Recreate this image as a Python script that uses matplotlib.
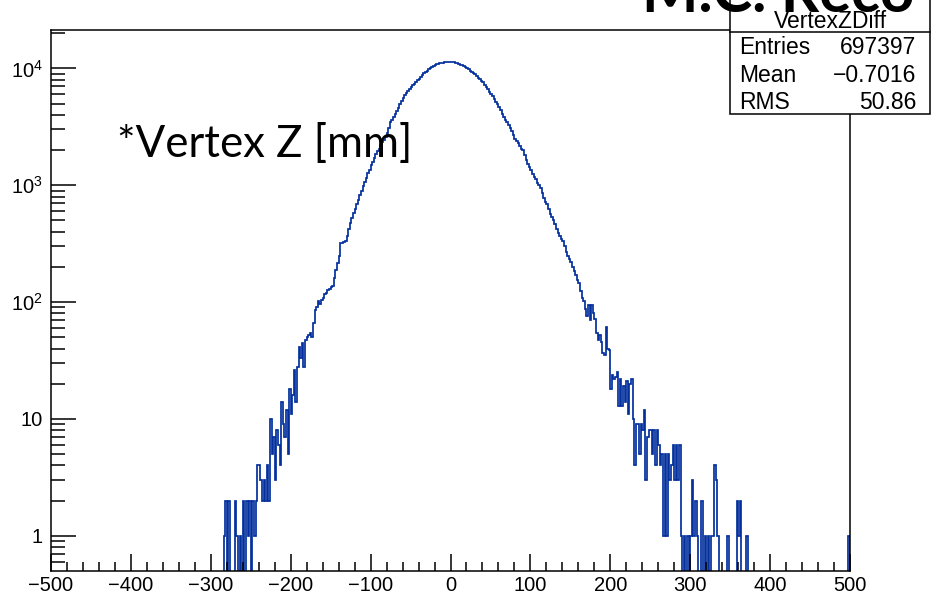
import numpy as np
import matplotlib
matplotlib.use("Agg")
import matplotlib.pyplot as plt
from matplotlib.ticker import FixedLocator, MultipleLocator, LogLocator, NullFormatter

plt.rcParams['font.family'] = ['Liberation Sans', 'DejaVu Sans']
plt.rcParams['mathtext.fontset'] = 'custom'
plt.rcParams['mathtext.rm'] = 'Liberation Sans'
plt.rcParams['mathtext.it'] = 'Liberation Sans:italic'

# histogram binning: 500 bins of 2 mm from -500 to 500
x_min, x_max, n_bins = -500, 500, 500

# counts per bin, starting at the bin with left edge -284 mm
first_edge = -284
counts = [
    # -284 .. -190
    1, 2, 0, 2, 0, 0, 0, 2, 1, 0,
    1, 0, 2, 0, 2, 1, 2, 0, 2, 1,
    2, 4, 4, 3, 2, 3, 2, 4, 2, 10,
    5, 7, 3, 8, 6, 4, 14, 9, 7, 12,
    5, 18, 11, 16, 26, 14, 28,
    # -190 .. -100
    41, 33, 45, 28, 47, 50, 52, 54, 50, 66,
    85, 90, 103, 96, 105, 108, 118, 120, 126, 130,
    134, 138, 160, 190, 215, 250, 318, 322, 325, 335,
    365, 420, 473, 520, 575, 620, 690, 745, 820, 900,
    977, 1060, 1150, 1260, 1360,
    # -100 .. 0
    1480, 1580, 1700, 1850, 1950, 2050, 2200, 2350, 2450, 2600,
    2820, 3100, 3500, 3650, 3850, 4070, 4350, 4600, 4950, 5300,
    5620, 5900, 6200, 6450, 6700, 6920, 7150, 7400, 7650, 7900,
    8130, 8400, 8750, 9100, 9350, 9550, 9800, 10050, 10300, 10550,
    10700, 10850, 10950, 11100, 11150, 11220, 11300, 11350, 11380, 11400,
    # 0 .. 100
    11400, 11380, 11300, 11200, 11100, 10960, 10750, 10600, 10400, 10200,
    10000, 9800, 9550, 9300, 9100, 8900, 8650, 8350, 8100, 7850,
    7580, 7250, 6900, 6600, 6300, 6020, 5750, 5450, 5200, 4950,
    4680, 4400, 4100, 3800, 3600, 3470, 3250, 3100, 2900, 2700,
    2500, 2400, 2300, 2150, 2050, 1990, 1800, 1650, 1530, 1420,
    # 100 .. 172
    1350, 1250, 1180, 1120, 1050, 1000, 940, 860, 780, 720,
    690, 620, 570, 530, 500, 465, 420, 390, 370, 345,
    330, 300, 270, 250, 235, 220, 200, 185, 170, 155,
    145, 125, 108, 102, 88, 76,
    # 172 .. 372
    95, 70, 95, 80, 72, 54, 47, 52, 46, 37,
    35, 61, 40, 39, 18, 24, 22, 23, 25, 13,
    22, 13, 19, 14, 21, 11, 20, 22, 10, 4,
    9, 9, 5, 9, 8, 12, 3, 7, 8, 8,
    5, 8, 4, 8, 6, 4, 5, 1, 5, 1,
    5, 3, 4, 6, 3, 6, 3, 6, 1, 0,
    1, 0, 1, 0, 1, 3, 1, 2, 1, 0,
    0, 2, 0, 1, 0, 1, 0, 1, 1, 4,
    3, 1, 0, 0, 0, 0, 0, 1, 0, 0,
    0, 0, 0, 2, 1, 2, 0, 0, 0, 1,
]
last_bin_count = 1  # bin 498..500

stats_title = "VertexZDiff"
stats_rows = [("Entries", "697397"), ("Mean", "\u22120.7016"), ("RMS", "50.86")]

edges = np.linspace(x_min, x_max, n_bins + 1)
hist = np.zeros(n_bins)
start = (first_edge - x_min) // 2
hist[start:start + len(counts)] = counts
hist[-1] = last_bin_count

# ROOT draws empty bins down to the frame on a log axis
draw_vals = np.where(hist > 0, hist, 1e-2)

W, H = 939, 598
fig = plt.figure(figsize=(W / 100, H / 100), dpi=100)
ax_l, ax_r, ax_t, ax_b = 51, 850, 29.5, 570.5
ax = fig.add_axes([ax_l / W, 1 - ax_b / H, (ax_r - ax_l) / W, (ax_b - ax_t) / H])

ax.stairs(draw_vals, edges, baseline=1e-2, color='#04309e', lw=1.25)

ax.set_yscale('log')
ax.set_xlim(x_min, x_max)
ax.set_ylim(0.505, 2.15e4)

ax.xaxis.set_major_locator(MultipleLocator(100))
ax.xaxis.set_minor_locator(MultipleLocator(20))
ax.yaxis.set_major_locator(FixedLocator([1, 10, 100, 1000, 10000]))
ax.yaxis.set_minor_locator(LogLocator(base=10, subs=np.arange(2, 10)))
ax.yaxis.set_minor_formatter(NullFormatter())
ax.set_yticklabels(['1', '10', r'10$^{2}$', r'10$^{3}$', r'10$^{4}$'])
ax.set_xticks(np.arange(-500, 501, 100))
ax.set_xticklabels([str(v).replace('-', '\u2212') for v in range(-500, 501, 100)])

ax.tick_params(axis='x', which='major', direction='in', length=12, width=1.1,
               labelsize=14.5, pad=4, top=False)
ax.tick_params(axis='x', which='minor', direction='in', length=6.5, width=1.1, top=False)
ax.tick_params(axis='y', which='major', direction='in', length=18, width=1.1,
               labelsize=14.5, pad=6, right=False)
ax.tick_params(axis='y', which='minor', direction='in', length=10, width=1.1, right=False)
for s in ax.spines.values():
    s.set_linewidth(1.1)

# stats box
bx0, bx1, by0, by1, bdiv = 730, 930, -5, 114, 32
box = plt.Rectangle((bx0 / W, 1 - by1 / H), (bx1 - bx0) / W, (by1 - by0) / H,
                    transform=fig.transFigure, facecolor='white', edgecolor='black',
                    lw=1.1, zorder=5)
fig.add_artist(box)
fig.add_artist(plt.Line2D([bx0 / W, bx1 / W], [1 - bdiv / H, 1 - bdiv / H],
                          transform=fig.transFigure, color='black', lw=1.1, zorder=6))
fig.text((bx0 + bx1) / 2 / W, 1 - 21 / H, stats_title, ha='center', va='center',
         fontsize=16.5, zorder=7)
for i, (name, val) in enumerate(stats_rows):
    y = 1 - (47.5 + 27.5 * i) / H
    fig.text(739 / W, y, name, ha='left', va='center', fontsize=16.5, zorder=7)
    fig.text(916 / W, y, val, ha='right', va='center', fontsize=16.5, zorder=7)

# slide annotations
fig.text(117 / W, 1 - 157 / H, "*Vertex Z [mm]", family=['Lato', 'DejaVu Sans'],
         fontsize=31.5, ha='left', va='baseline', zorder=8)
fig.text(642 / W, 1 - 12 / H, "M.C. Reco", family=['Lato', 'DejaVu Sans'],
         fontweight='bold', fontsize=43, ha='left', va='baseline', zorder=8)

fig.savefig('out.png', dpi=100)
